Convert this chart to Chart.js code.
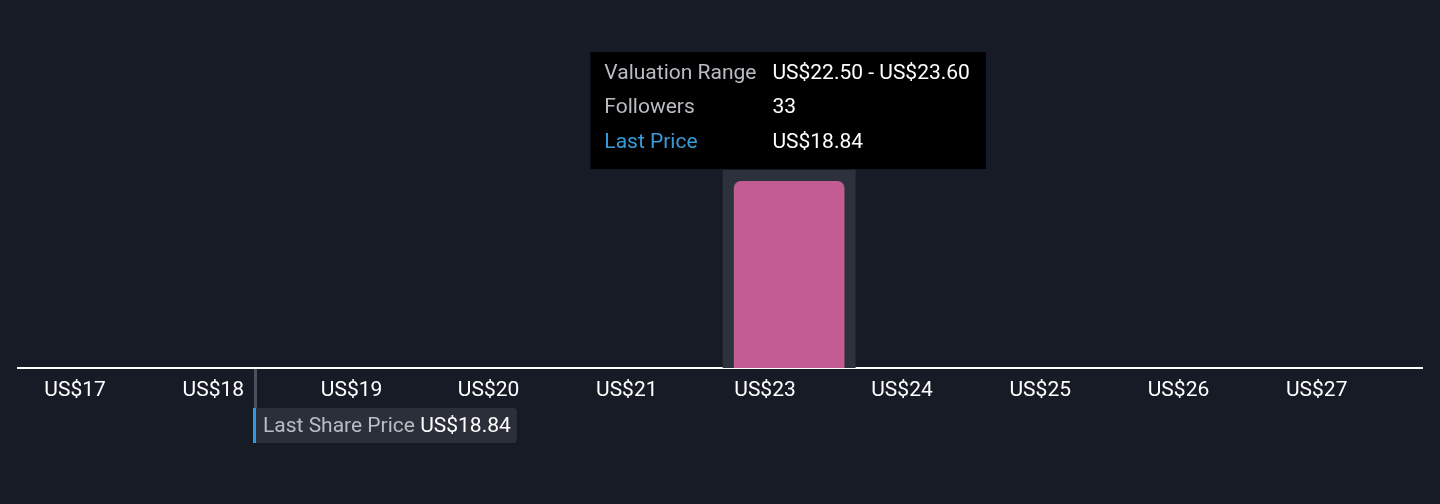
<!DOCTYPE html>
<html><head><meta charset="utf-8">
<script src="https://cdn.jsdelivr.net/npm/chart.js@4.4.1/dist/chart.umd.min.js"></script>
<style>html,body{margin:0;padding:0;background:#161b26;}#wrap{width:1440px;height:504px;}</style>
</head><body><div id="wrap"><canvas id="c" width="1440" height="504"></canvas></div>
<script>
// Data
const tickValues = [17.42, 18.51, 19.60, 20.68, 21.77, 22.86, 23.94, 25.03, 26.12, 27.21];
const tickLabels = ['US$17','US$18','US$19','US$20','US$21','US$23','US$24','US$25','US$26','US$27'];
const rangeLow = [22.50];
const rangeHigh = [23.60];
const followers = [33];
const rangeLabels = ['US$22.50 - US$23.60'];
const lastPrice = 18.84;
const lastPriceLabel = 'US$18.84';
const axisMin = 16.97;
const axisMax = 28.04;
const activeIndex = 0;

const FONT = 'Roboto, "Noto Sans", sans-serif';
const points = followers.map((f, i) => ({x: (rangeLow[i] + rangeHigh[i]) / 2, y: f}));

const overlay = {
  id: 'overlay',
  beforeDatasetsDraw(chart) {
    const {ctx, chartArea} = chart;
    const el = chart.getDatasetMeta(0).data[activeIndex];
    const w = 133;
    ctx.save();
    ctx.fillStyle = '#2c313b';
    ctx.fillRect(el.x - w/2, chartArea.top, w, chartArea.bottom - chartArea.top);
    ctx.restore();
  },
  afterDraw(chart) {
    const {ctx, chartArea} = chart;
    const xs = chart.scales.x;
    const px = Math.round(xs.getPixelForValue(lastPrice));
    ctx.save();
    ctx.fillStyle = '#4a4f59';
    ctx.fillRect(px - 1, chartArea.bottom + 1, 3, 40);
    ctx.font = '21px ' + FONT;
    const t1 = 'Last Share Price ';
    const w1 = ctx.measureText(t1).width;
    const w2 = ctx.measureText(lastPriceLabel).width;
    const bx = px - 2, by = chartArea.bottom + 40, bh = 35, bw = w1 + w2 + 16;
    ctx.fillStyle = '#2a2f3a';
    ctx.beginPath();
    ctx.roundRect(bx, by, bw, bh, [0,3,3,0]);
    ctx.fill();
    ctx.fillStyle = '#2f9ae0';
    ctx.fillRect(bx, by, 3, bh);
    ctx.textBaseline = 'middle';
    ctx.fillStyle = '#b9bcc2';
    ctx.fillText(t1, bx + 10, by + bh/2 + 1);
    ctx.fillStyle = '#ffffff';
    ctx.fillText(lastPriceLabel, bx + 10 + w1, by + bh/2 + 1);

    // tooltip
    const el = chart.getDatasetMeta(0).data[activeIndex];
    const rows = [
      ['Valuation Range', rangeLabels[activeIndex], '#b9bcc2'],
      ['Followers', String(followers[activeIndex]), '#b9bcc2'],
      ['Last Price', lastPriceLabel, '#3a9ad9']
    ];
    const labW = Math.max(...rows.map(r => ctx.measureText(r[0]).width));
    const valW = Math.max(...rows.map(r => ctx.measureText(r[1]).width));
    const padL = 14, padR = 16, gap = 16;
    const tw = padL + labW + gap + valW + padR;
    const th = 117;
    const tx = el.x - tw/2 - 1, ty = chartArea.top - th - 1;
    ctx.fillStyle = '#000000';
    ctx.fillRect(tx, ty, tw, th);
    rows.forEach((r, i) => {
      const yy = ty + 21.5 + i * 34.5;
      ctx.fillStyle = r[2];
      ctx.fillText(r[0], tx + padL, yy);
      ctx.fillStyle = '#ffffff';
      ctx.fillText(r[1], tx + padL + labW + gap, yy);
    });
    ctx.restore();
  }
};

new Chart(document.getElementById('c'), {
  type: 'bar',
  data: {
    datasets: [{
      data: points,
      backgroundColor: '#c25c93',
      borderRadius: {topLeft: 7, topRight: 7, bottomLeft: 0, bottomRight: 0},
      borderSkipped: false,
      barThickness: 110
    }]
  },
  options: {
    responsive: false,
    animation: false,
    devicePixelRatio: 1,
    layout: {padding: {top: 170, left: 18, right: 18, bottom: 98.8}},
    plugins: {legend: {display: false}, tooltip: {enabled: false}},
    scales: {
      x: {
        type: 'linear',
        min: axisMin,
        max: axisMax,
        offset: false,
        grid: {display: false},
        border: {display: true, color: '#ffffff', width: 2},
        afterBuildTicks(scale) { scale.ticks = tickValues.map(v => ({value: v})); },
        ticks: {
          color: '#ffffff', font: {family: FONT, size: 21}, padding: 2,
          maxRotation: 0, autoSkip: false,
          callback: (v, i) => tickLabels[i]
        }
      },
      y: {display: false, min: 0, max: 35}
    }
  },
  plugins: [overlay]
});
</script></body></html>
